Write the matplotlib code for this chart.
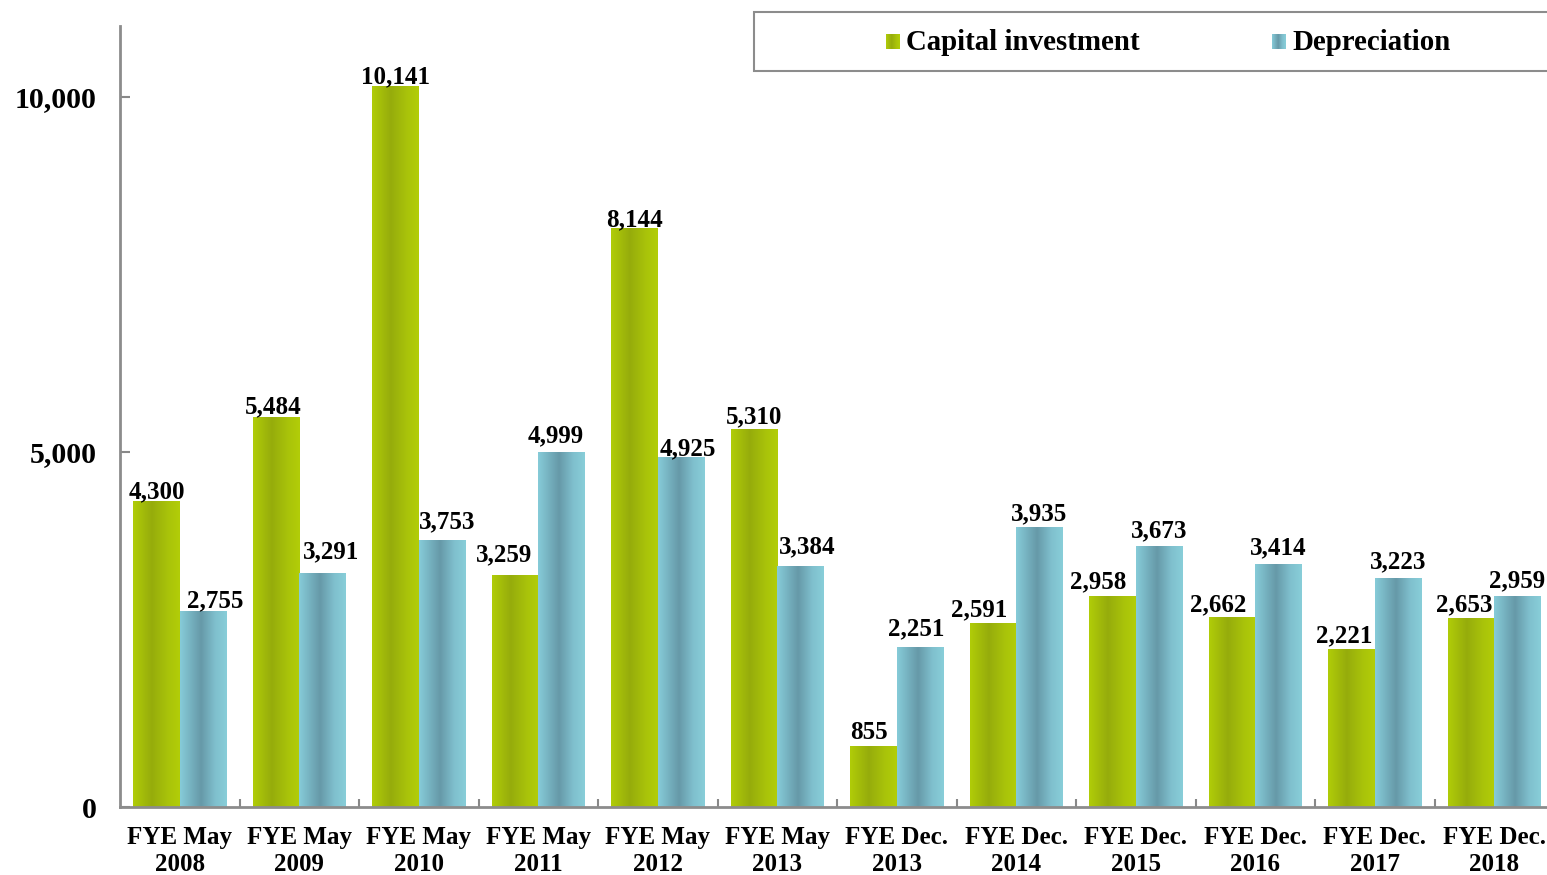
import numpy as np
import matplotlib
matplotlib.use('Agg')
import matplotlib.pyplot as plt
from matplotlib.colors import LinearSegmentedColormap
from matplotlib.patches import Rectangle

plt.rcParams['font.family'] = ['Liberation Serif', 'DejaVu Serif']
plt.rcParams['font.weight'] = 'bold'

# data
periods = ['FYE May\n2008', 'FYE May\n2009', 'FYE May\n2010', 'FYE May\n2011',
           'FYE May\n2012', 'FYE May\n2013', 'FYE Dec.\n2013', 'FYE Dec.\n2014',
           'FYE Dec.\n2015', 'FYE Dec.\n2016', 'FYE Dec.\n2017', 'FYE Dec.\n2018']
capital = [4300, 5484, 10141, 3259, 8144, 5310, 855, 2591, 2958, 2662, 2221, 2653]
depreciation = [2755, 3291, 3753, 4999, 4925, 3384, 2251, 3935, 3673, 3414, 3223, 2959]
series_names = ['Capital investment', 'Depreciation']
yticks = [0, 5000, 10000]

# label nudges (pixels) like the excel auto placement
cap_dx = [0, -3, 0, -11, 0, 0, -5, -14, -14, -14, -7, -7]
cap_dy = [2, 3, 3, 13, 1, 6, 6, 6, 8, 6, 6, 6]
dep_dx = [12, 9, 5, -6, 7, 7, -4, 0, 0, 0, 0, 0]
dep_dy = [3, 14, 11, 9, 1, 12, 11, 6, 8, 9, 9, 9]

green_cm = LinearSegmentedColormap.from_list(
    'g', [(0, '#b0cc08'), (0.4, '#96ac0c'), (0.75, '#a9c30a'), (1, '#b2cd08')])
blue_cm = LinearSegmentedColormap.from_list(
    'b', [(0, '#86cbd8'), (0.45, '#6699a8'), (0.75, '#7fbfcd'), (1, '#88ced9')])
grad = np.linspace(0, 1, 64).reshape(1, -1)

fig = plt.figure(figsize=(15.47, 8.75), dpi=100)
ax = fig.add_axes([120 / 1547, 1 - 807 / 875, 1434 / 1547, 781 / 875])

w = 0.39
x = np.arange(len(periods))


def grad_bars(xs, vals, cmap, dxs, dys):
    for xi, v, dx, dy in zip(xs, vals, dxs, dys):
        ax.imshow(grad, cmap=cmap, aspect='auto', extent=[xi - w / 2, xi + w / 2, 0, v],
                  zorder=2, interpolation='bilinear')
        ax.annotate('{:,}'.format(v), (xi, v), xytext=(dx, dy + 1), textcoords='offset pixels',
                    ha='center', va='baseline', fontsize=18, fontweight='bold', zorder=3)


grad_bars(x - w / 2, capital, green_cm, cap_dx, cap_dy)
grad_bars(x + w / 2, depreciation, blue_cm, dep_dx, dep_dy)

ax.set_xlim(-0.5, len(periods) - 0.5)
ax.set_ylim(0, 11000)
ax.set_yticks(yticks)
ax.set_yticklabels(['{:,}'.format(t) for t in yticks], fontsize=21.5, fontweight='bold')
ax.set_xticks(x)
ax.set_xticklabels(periods, fontsize=18, fontweight='bold', linespacing=1.2)
ax.set_xticks(np.arange(len(periods) - 1) + 0.5, minor=True)
ax.tick_params(axis='x', which='major', length=0, pad=14)
ax.tick_params(axis='x', which='minor', direction='in', length=6, width=1.5, color='#888888')
ax.tick_params(axis='y', direction='in', length=7, width=1.5, color='#888888', pad=17)

for s in ['top', 'right']:
    ax.spines[s].set_visible(False)
for s in ['left', 'bottom']:
    ax.spines[s].set_color('#8c8c8c')
    ax.spines[s].set_linewidth(2)

# legend box
W, H = 1547.0, 875.0
fig.add_artist(Rectangle((754 / W, 1 - 71 / H), 800 / W, 59 / H, transform=fig.transFigure,
                         facecolor='white', edgecolor='#8c8c8c', linewidth=1.5, zorder=5))
for hx, tx, name, cmap in [(886, 906, series_names[0], green_cm),
                           (1272, 1292, series_names[1], blue_cm)]:
    hax = fig.add_axes([hx / W, 1 - 49 / H, 14 / W, 15 / H], zorder=6)
    hax.imshow(grad, cmap=cmap, aspect='auto')
    hax.axis('off')
    fig.text(tx / W, 1 - 43 / H, name, fontsize=20.8, fontweight='bold', va='center',
             ha='left', zorder=7)

fig.savefig('out.png', dpi=100)
